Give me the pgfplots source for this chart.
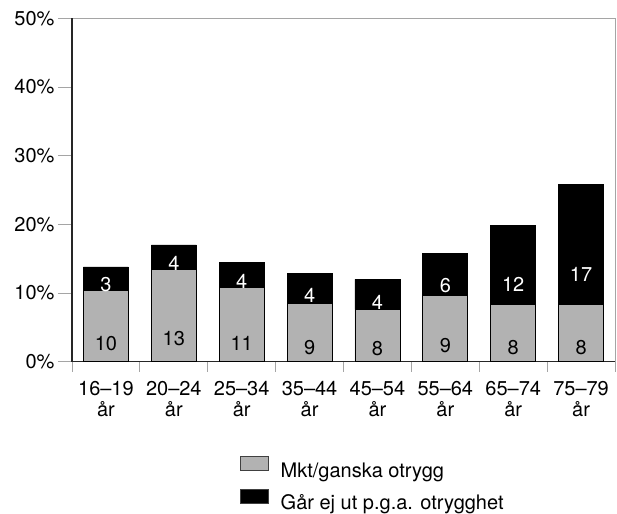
\documentclass[border=0pt]{standalone}
\usepackage{fontspec}
\setmainfont{TeX Gyre Heros}
\usepackage{pgfplots}
\usepackage{pgfplotstable}
\pgfplotsset{compat=1.18}
\definecolor{BarGray}{RGB}{178,178,178}
\definecolor{AxisGray}{RGB}{165,165,165}

% segment heights, printed labels as in the figure
\pgfplotstableread{
x  low   lowlab  high  highlab
0  10.4  10      3.4   3
1  13.4  13      3.6   4
2  10.8  11      3.7   4
3  8.5   9       4.4   4
4  7.6   8       4.4   4
5  9.6   9       6.2   6
6  8.3   8       11.6  12
7  8.3   8       17.5  17
}\datatable

\begin{document}
\begin{tikzpicture}[font=\fontsize{20}{21}\selectfont]
\begin{axis}[
    scale only axis,
    width=543pt, height=343.4pt,
    ybar stacked,
    bar width=45pt,
    xmin=-0.5, xmax=7.5,
    ymin=0, ymax=50,
    ytick={0,10,...,50},
    yticklabel={\pgfmathprintnumber{\tick}\%},
    /pgf/number format/assume math mode=true,
    xtick={0,...,7},
    xticklabels={{16--19\\år},{20--24\\år},{25--34\\år},{35--44\\år},
                 {45--54\\år},{55--64\\år},{65--74\\år},{75--79\\år}},
    x tick label style={align=center, yshift=-2pt},
    minor xtick={-0.5,0.5,...,7.5},
    major x tick style={draw=none},
    tick align=outside,
    tick pos=left,
    major tick length=14pt,
    minor tick length=10pt,
    every tick/.style={AxisGray, line width=0.8pt},
    axis line style={AxisGray, line width=0.8pt},
    clip=false,
    legend style={at={(0.309,-0.275)}, anchor=north west, draw=none, fill=none,
                  row sep=8pt, inner sep=0pt,
                  /tikz/every odd column/.append style={column sep=10pt}},
    legend cell align=left,
    legend image code/.code={\draw[#1, draw=black!75, line width=0.7pt] (0pt,0pt) rectangle (28pt,14pt);},
    nodes near coords, point meta=explicit symbolic,
    visualization depends on=rawy \as \segh,
    every node near coord/.append style={anchor=center, yshift=-1.717pt*\segh},
]
\addplot[fill=BarGray, draw=black, line width=0.8pt,
    every node near coord/.append style={text=black}]
    table[x=x, y=low, meta=lowlab] {\datatable};
\addlegendentry{Mkt/ganska otrygg}
\addplot[fill=black, draw=black, line width=0.8pt,
    every node near coord/.append style={text=white}]
    table[x=x, y=high, meta=highlab] {\datatable};
\addlegendentry{Går ej ut p.g.a. otrygghet}
\draw[black!85, line width=1.2pt] (rel axis cs:0,1) -- (rel axis cs:0,0) -- (rel axis cs:1,0);
\end{axis}
\path (-72pt,-144.3pt) rectangle (545pt,361.7pt);
\end{tikzpicture}
\end{document}
